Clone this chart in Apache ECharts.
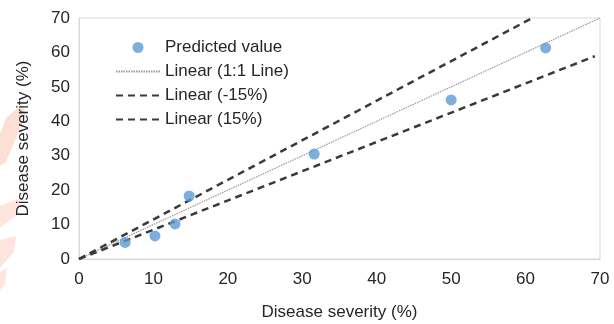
<!DOCTYPE html>
<html>
<head>
<meta charset="utf-8">
<script src="https://cdn.jsdelivr.net/npm/echarts@6/dist/echarts.min.js"></script>
<style>
  html, body { margin: 0; padding: 0; background: #fff; }
  #chart { width: 614px; height: 324px; }
</style>
</head>
<body>
<div id="chart"></div>
<script>
// observed vs predicted severity
const observed = [6.2, 10.2, 12.9, 14.8, 31.6, 50.0, 62.7]
const predicted = [4.8, 6.7, 10.2, 18.3, 30.5, 46.2, 61.3]

// reference lines (x start/end, y start/end)
const oneToOneX = [0, 70]
const oneToOneY = [0, 70]
const minus15X = [0, 69.3]
const minus15Y = [0, 58.9]
const plus15X = [0, 60.9]
const plus15Y = [0, 70]

const axisTicks = [0, 10, 20, 30, 40, 50, 60, 70]
const seriesNames = ['Predicted value', 'Linear (1:1 Line)', 'Linear (-15%)', 'Linear (15%)']

const pairs = (xs, ys) => xs.map((x, i) => [x, ys[i]])

const chart = echarts.init(document.getElementById('chart'))
const font = 'Liberation Sans, Arial, sans-serif'
const txt = '#262626'

const dashStyle = {
    color: '#3a3a3a',
    width: 2.5,
    type: [7, 5]
}

let options = {
    animation: false,
    backgroundColor: '#fff',
    textStyle: { fontFamily: font },
    grid: {
        left: 79,
        right: 14,
        top: 18,
        bottom: 65,
        outerBoundsMode: 'none',
        show: true,
        borderColor: '#d9d9d9',
        borderWidth: 1
    },
    legend: {
        orient: 'vertical',
        left: 110,
        top: 34,
        itemWidth: 44,
        itemHeight: 11,
        itemGap: 7,
        textStyle: { color: txt, fontSize: 17, fontFamily: font },
        data: seriesNames
    },
    xAxis: {
        type: 'value',
        min: 0,
        max: 70,
        interval: 10,
        name: 'Disease severity (%)',
        nameLocation: 'middle',
        nameGap: 45,
        nameTextStyle: { color: txt, fontSize: 17 },
        axisLine: { lineStyle: { color: '#d9d9d9' } },
        axisTick: { show: false },
        splitLine: { show: false },
        axisLabel: {
            color: txt,
            fontSize: 17,
            margin: 12,
            formatter: v => axisTicks.includes(v) ? String(v) : ''
        }
    },
    yAxis: {
        type: 'value',
        min: 0,
        max: 70,
        interval: 10,
        name: 'Disease severity (%)',
        nameLocation: 'middle',
        nameGap: 47,
        nameTextStyle: { color: txt, fontSize: 17 },
        axisLine: { show: true, lineStyle: { color: '#d9d9d9' } },
        axisTick: { show: false },
        splitLine: { show: false },
        axisLabel: {
            color: txt,
            fontSize: 17,
            margin: 9,
            formatter: v => axisTicks.includes(v) ? String(v) : ''
        }
    },
    graphic: [
        // faint watermark on the left edge
        { type: 'polygon', silent: true, z: -1, shape: { points: [[6, 118], [22, 104], [26, 114], [6, 162], [0, 166], [0, 134]] }, style: { fill: 'rgba(250,110,70,0.22)' } },
        { type: 'polygon', silent: true, z: -1, shape: { points: [[0, 206], [20, 198], [18, 214], [0, 228]] }, style: { fill: 'rgba(250,110,70,0.18)' } },
        { type: 'polygon', silent: true, z: -1, shape: { points: [[0, 240], [16, 236], [14, 252], [0, 268]] }, style: { fill: 'rgba(250,110,70,0.18)' } },
        { type: 'polygon', silent: true, z: -1, shape: { points: [[0, 272], [7, 268], [5, 284], [0, 290]] }, style: { fill: 'rgba(250,110,70,0.18)' } }
    ],
    series: [
        {
            name: seriesNames[0],
            type: 'scatter',
            symbol: 'circle',
            symbolSize: 11,
            itemStyle: { color: '#5b9bd5' },
            z: 5,
            data: pairs(observed, predicted)
        },
        {
            name: seriesNames[1],
            type: 'line',
            symbol: 'none',
            lineStyle: { color: '#999', width: 1.2, type: [1.5, 1] },
            // transparent so the legend shows only the line
            itemStyle: { color: 'transparent', borderWidth: 0 },
            data: pairs(oneToOneX, oneToOneY)
        },
        {
            name: seriesNames[2],
            type: 'line',
            symbol: 'none',
            lineStyle: dashStyle,
            itemStyle: { color: 'transparent', borderWidth: 0 },
            data: pairs(minus15X, minus15Y)
        },
        {
            name: seriesNames[3],
            type: 'line',
            symbol: 'none',
            lineStyle: dashStyle,
            itemStyle: { color: 'transparent', borderWidth: 0 },
            data: pairs(plus15X, plus15Y)
        }
    ]
}
chart.setOption(options)
</script>
</body>
</html>
